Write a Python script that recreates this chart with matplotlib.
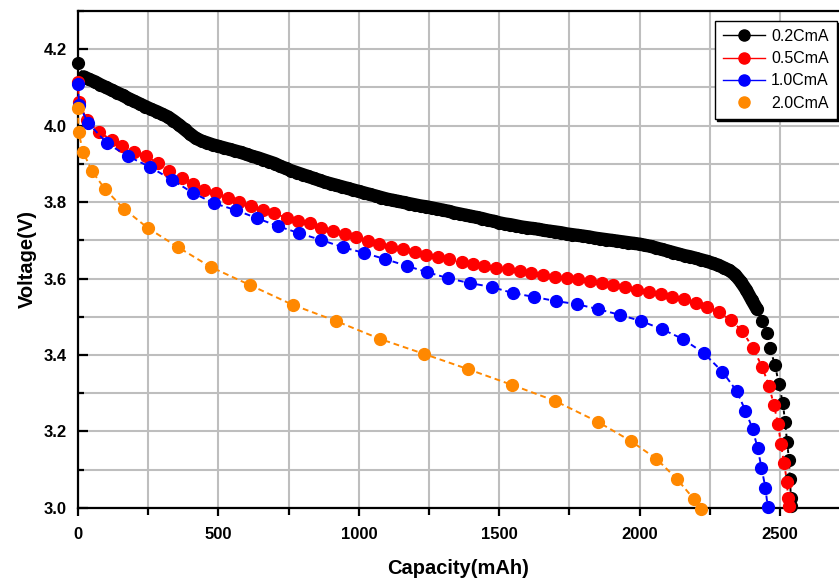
import matplotlib
matplotlib.use("Agg")
import matplotlib.pyplot as plt
from matplotlib.lines import Line2D
from matplotlib.ticker import MultipleLocator

plt.rcParams["font.family"] = ["Liberation Sans", "DejaVu Sans"]

# 0.2CmA discharge (dense sampling)
cap_02 = [0, 20, 40, 60, 80, 100, 120, 140, 160, 180, 200, 220, 240, 260, 280,
          300, 320, 340, 360, 380, 400, 420, 440, 460, 480, 500, 520, 540, 560,
          580, 600, 620, 640, 660, 680, 700, 720, 740, 760, 780, 800, 820, 840,
          860, 880, 900, 920, 940, 960, 980, 1000, 1020, 1040, 1060, 1080, 1100,
          1120, 1140, 1160, 1180, 1200, 1220, 1240, 1260, 1280, 1300, 1320, 1340,
          1360, 1380, 1400, 1420, 1440, 1460, 1480, 1500, 1520, 1540, 1560, 1580,
          1600, 1620, 1640, 1660, 1680, 1700, 1720, 1740, 1760, 1780, 1800, 1820,
          1840, 1860, 1880, 1900, 1920, 1940, 1960, 1980, 2000, 2020, 2040, 2060,
          2080, 2100, 2120, 2140, 2160, 2180, 2200, 2220, 2240, 2260, 2280, 2300,
          2320, 2340, 2360, 2380, 2400, 2418, 2436, 2453, 2464, 2482, 2496, 2510,
          2518, 2525, 2532, 2535, 2539, 2540]
volt_02 = [4.163, 4.128, 4.121, 4.115, 4.107, 4.100, 4.093, 4.086, 4.079, 4.071,
           4.064, 4.057, 4.050, 4.043, 4.037, 4.030, 4.023, 4.013, 4.002, 3.990,
           3.978, 3.967, 3.960, 3.955, 3.950, 3.946, 3.942, 3.938, 3.934, 3.930,
           3.925, 3.920, 3.916, 3.911, 3.906, 3.901, 3.894, 3.888, 3.882, 3.877,
           3.872, 3.867, 3.862, 3.857, 3.852, 3.848, 3.844, 3.840, 3.836, 3.832,
           3.828, 3.824, 3.820, 3.816, 3.812, 3.808, 3.805, 3.802, 3.799, 3.796,
           3.793, 3.790, 3.788, 3.785, 3.782, 3.779, 3.776, 3.772, 3.769, 3.766,
           3.763, 3.760, 3.757, 3.753, 3.750, 3.746, 3.743, 3.741, 3.738, 3.735,
           3.733, 3.731, 3.729, 3.726, 3.724, 3.722, 3.720, 3.717, 3.715, 3.713,
           3.711, 3.709, 3.706, 3.704, 3.702, 3.700, 3.698, 3.696, 3.694, 3.692,
           3.690, 3.687, 3.684, 3.680, 3.676, 3.672, 3.668, 3.664, 3.660, 3.657,
           3.653, 3.649, 3.645, 3.640, 3.635, 3.628, 3.621, 3.610, 3.592, 3.570,
           3.543, 3.520, 3.489, 3.457, 3.418, 3.374, 3.324, 3.274, 3.225, 3.173,
           3.125, 3.076, 3.026, 3.005]

# 0.5CmA
cap_05 = [0, 3, 32, 75, 121, 157, 199, 242, 285, 324, 370, 410, 449, 491, 534,
          573, 616, 659, 698, 744, 783, 826, 865, 908, 951, 990, 1033, 1072, 1115,
          1157, 1200, 1239, 1282, 1321, 1367, 1407, 1446, 1488, 1531, 1574, 1613,
          1656, 1699, 1741, 1780, 1823, 1866, 1905, 1948, 1991, 2033, 2076, 2115,
          2158, 2201, 2240, 2283, 2325, 2365, 2404, 2436, 2461, 2478, 2493, 2503,
          2514, 2525, 2528, 2532]
volt_05 = [4.114, 4.061, 4.014, 3.983, 3.962, 3.946, 3.930, 3.920, 3.902, 3.881,
           3.863, 3.847, 3.831, 3.823, 3.810, 3.800, 3.789, 3.779, 3.771, 3.758,
           3.750, 3.745, 3.732, 3.724, 3.716, 3.708, 3.698, 3.690, 3.682, 3.677,
           3.669, 3.661, 3.656, 3.651, 3.643, 3.638, 3.633, 3.627, 3.625, 3.620,
           3.614, 3.609, 3.604, 3.601, 3.599, 3.593, 3.588, 3.583, 3.578, 3.570,
           3.565, 3.559, 3.552, 3.546, 3.536, 3.525, 3.512, 3.491, 3.463, 3.418,
           3.369, 3.319, 3.269, 3.220, 3.167, 3.118, 3.068, 3.026, 3.005]

# 1.0CmA
cap_10 = [0, 4, 36, 103, 178, 256, 335, 409, 484, 562, 637, 712, 786, 865, 943,
          1018, 1093, 1171, 1242, 1317, 1395, 1473, 1548, 1623, 1701, 1776, 1851,
          1929, 2004, 2078, 2153, 2228, 2295, 2345, 2377, 2402, 2420, 2434, 2448,
          2456]
volt_10 = [4.108, 4.054, 4.007, 3.954, 3.920, 3.892, 3.858, 3.824, 3.797, 3.779,
           3.758, 3.737, 3.719, 3.701, 3.682, 3.667, 3.651, 3.633, 3.617, 3.601,
           3.588, 3.578, 3.562, 3.552, 3.541, 3.533, 3.520, 3.505, 3.489, 3.468,
           3.442, 3.405, 3.356, 3.306, 3.254, 3.207, 3.157, 3.105, 3.052, 3.003]

# 2.0CmA
cap_20 = [0, 2, 18, 50, 96, 164, 249, 356, 473, 612, 765, 918, 1075, 1231, 1388,
          1544, 1698, 1851, 1968, 2060, 2132, 2192, 2217]
volt_20 = [4.046, 3.983, 3.931, 3.881, 3.834, 3.782, 3.732, 3.682, 3.630, 3.583,
           3.531, 3.489, 3.442, 3.403, 3.363, 3.322, 3.280, 3.225, 3.175, 3.128,
           3.076, 3.024, 2.997]

labels = ["0.2CmA", "0.5CmA", "1.0CmA", "2.0CmA"]
colors = ["#000000", "#ff0000", "#0000ff", "#ff8800"]

fig = plt.figure(figsize=(8.39, 5.81), dpi=100)
ax = fig.add_axes([0.093, 0.126, 0.907, 0.855])

# the 0.2C markers overlap into a solid band until the knee
n_band = cap_02.index(2418) + 1
ax.plot(cap_02[1:n_band], volt_02[1:n_band], color="black", lw=9.5,
        solid_capstyle="round", solid_joinstyle="round", zorder=3)

series = [(cap_02, volt_02, (0, (2, 2))),
          (cap_05, volt_05, (0, (2, 2))),
          (cap_10, volt_10, (0, (3, 2))),
          (cap_20, volt_20, (0, (3, 2)))]
for (x, y, ls), c in zip(series, colors):
    ax.plot(x, y, color=c, ls=ls, lw=1.4, marker="o", ms=8.5,
            mec=c, mfc=c, clip_on=False, zorder=3)

ax.set_xlim(0, 2710)
ax.set_ylim(3.0, 4.3)
ax.xaxis.set_major_locator(MultipleLocator(500))
ax.xaxis.set_minor_locator(MultipleLocator(250))
ax.yaxis.set_major_locator(MultipleLocator(0.2))
ax.yaxis.set_minor_locator(MultipleLocator(0.1))
ax.yaxis.set_major_formatter(matplotlib.ticker.FormatStrFormatter("%.1f"))

ax.grid(which="both", color="#bebebe", lw=1.5, zorder=0)
ax.set_axisbelow(True)
ax.spines["right"].set_visible(False)
for s in ["left", "bottom", "top"]:
    ax.spines[s].set_linewidth(1.6)

ax.tick_params(axis="y", which="major", direction="in", length=7, width=1.6,
               pad=8, labelsize=12)
ax.tick_params(axis="y", which="minor", direction="in", length=4, width=1.6)
ax.tick_params(axis="x", which="major", direction="out", length=6, width=1.6,
               pad=8, labelsize=12)
ax.tick_params(axis="x", which="minor", direction="out", length=5, width=1.6)
for lab in ax.get_xticklabels() + ax.get_yticklabels():
    lab.set_fontweight("bold")

ax.set_xlabel("Capacity(mAh)", fontsize=14.5, fontweight="bold", labelpad=12)
ax.set_ylabel("Voltage(V)", fontsize=14.5, fontweight="bold", labelpad=5)

handles = []
for i, (lab, c) in enumerate(zip(labels, colors)):
    ls = "none" if i == 3 else "-"
    handles.append(Line2D([], [], color=c, lw=1, ls=ls, marker="o", ms=8,
                          mfc=c, mec=c))
leg = ax.legend(handles=handles, labels=labels, loc="upper right",
                bbox_to_anchor=(0.997, 0.98), borderaxespad=0, fontsize=11.5,
                fancybox=False, framealpha=1, edgecolor="black",
                handlelength=2.6, handletextpad=0.4, labelspacing=0.45,
                borderpad=0.5,
                shadow={"ox": 1.5, "oy": -1.5, "color": "black", "alpha": 1})
leg.get_frame().set_linewidth(1.0)

fig.savefig("out.png", dpi=100)
